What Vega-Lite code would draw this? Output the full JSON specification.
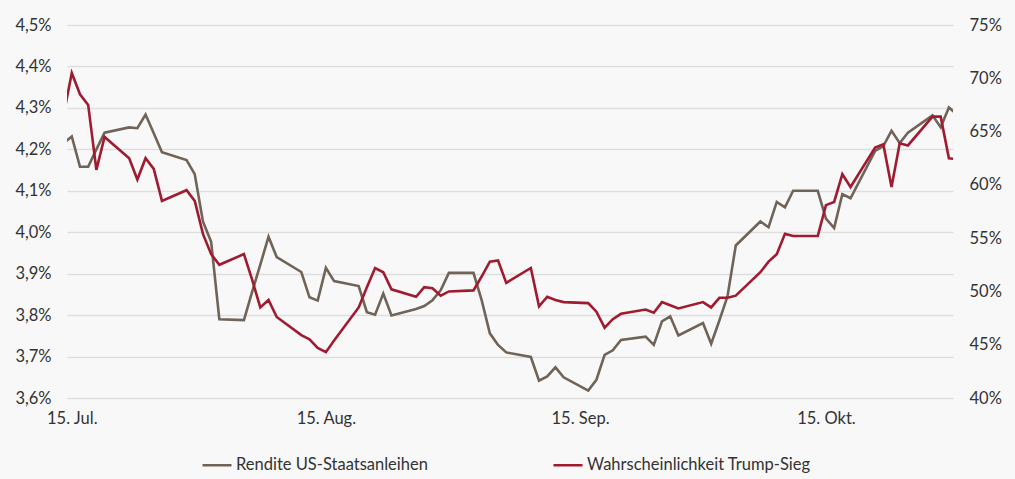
{
  "$schema": "https://vega.github.io/schema/vega-lite/v6.json",
  "width": 886,
  "height": 373,
  "autosize": {"type": "none"},
  "padding": {"left": 67, "top": 25, "right": 62, "bottom": 81},
  "background": "#f8f8f8",
  "data": {
    "values": [
      {"d": "2024-07-12", "s": "Rendite US-Staatsanleihen", "v": 4.182},
      {"d": "2024-07-15", "s": "Rendite US-Staatsanleihen", "v": 4.231},
      {"d": "2024-07-16", "s": "Rendite US-Staatsanleihen", "v": 4.158},
      {"d": "2024-07-17", "s": "Rendite US-Staatsanleihen", "v": 4.158},
      {"d": "2024-07-18", "s": "Rendite US-Staatsanleihen", "v": 4.2},
      {"d": "2024-07-19", "s": "Rendite US-Staatsanleihen", "v": 4.24},
      {"d": "2024-07-22", "s": "Rendite US-Staatsanleihen", "v": 4.253},
      {"d": "2024-07-23", "s": "Rendite US-Staatsanleihen", "v": 4.251},
      {"d": "2024-07-24", "s": "Rendite US-Staatsanleihen", "v": 4.284},
      {"d": "2024-07-25", "s": "Rendite US-Staatsanleihen", "v": 4.239},
      {"d": "2024-07-26", "s": "Rendite US-Staatsanleihen", "v": 4.193},
      {"d": "2024-07-29", "s": "Rendite US-Staatsanleihen", "v": 4.174},
      {"d": "2024-07-30", "s": "Rendite US-Staatsanleihen", "v": 4.14},
      {"d": "2024-07-31", "s": "Rendite US-Staatsanleihen", "v": 4.026},
      {"d": "2024-08-01", "s": "Rendite US-Staatsanleihen", "v": 3.977},
      {"d": "2024-08-02", "s": "Rendite US-Staatsanleihen", "v": 3.79},
      {"d": "2024-08-05", "s": "Rendite US-Staatsanleihen", "v": 3.788},
      {"d": "2024-08-06", "s": "Rendite US-Staatsanleihen", "v": 3.856},
      {"d": "2024-08-07", "s": "Rendite US-Staatsanleihen", "v": 3.922},
      {"d": "2024-08-08", "s": "Rendite US-Staatsanleihen", "v": 3.989},
      {"d": "2024-08-09", "s": "Rendite US-Staatsanleihen", "v": 3.94},
      {"d": "2024-08-12", "s": "Rendite US-Staatsanleihen", "v": 3.904},
      {"d": "2024-08-13", "s": "Rendite US-Staatsanleihen", "v": 3.843},
      {"d": "2024-08-14", "s": "Rendite US-Staatsanleihen", "v": 3.835},
      {"d": "2024-08-15", "s": "Rendite US-Staatsanleihen", "v": 3.914},
      {"d": "2024-08-16", "s": "Rendite US-Staatsanleihen", "v": 3.882},
      {"d": "2024-08-19", "s": "Rendite US-Staatsanleihen", "v": 3.87},
      {"d": "2024-08-20", "s": "Rendite US-Staatsanleihen", "v": 3.807},
      {"d": "2024-08-21", "s": "Rendite US-Staatsanleihen", "v": 3.801},
      {"d": "2024-08-22", "s": "Rendite US-Staatsanleihen", "v": 3.852},
      {"d": "2024-08-23", "s": "Rendite US-Staatsanleihen", "v": 3.799},
      {"d": "2024-08-26", "s": "Rendite US-Staatsanleihen", "v": 3.815},
      {"d": "2024-08-27", "s": "Rendite US-Staatsanleihen", "v": 3.822},
      {"d": "2024-08-28", "s": "Rendite US-Staatsanleihen", "v": 3.836},
      {"d": "2024-08-29", "s": "Rendite US-Staatsanleihen", "v": 3.86},
      {"d": "2024-08-30", "s": "Rendite US-Staatsanleihen", "v": 3.902},
      {"d": "2024-09-02", "s": "Rendite US-Staatsanleihen", "v": 3.902},
      {"d": "2024-09-03", "s": "Rendite US-Staatsanleihen", "v": 3.836},
      {"d": "2024-09-04", "s": "Rendite US-Staatsanleihen", "v": 3.756},
      {"d": "2024-09-05", "s": "Rendite US-Staatsanleihen", "v": 3.728},
      {"d": "2024-09-06", "s": "Rendite US-Staatsanleihen", "v": 3.71},
      {"d": "2024-09-09", "s": "Rendite US-Staatsanleihen", "v": 3.699},
      {"d": "2024-09-10", "s": "Rendite US-Staatsanleihen", "v": 3.642},
      {"d": "2024-09-11", "s": "Rendite US-Staatsanleihen", "v": 3.652},
      {"d": "2024-09-12", "s": "Rendite US-Staatsanleihen", "v": 3.674},
      {"d": "2024-09-13", "s": "Rendite US-Staatsanleihen", "v": 3.65},
      {"d": "2024-09-16", "s": "Rendite US-Staatsanleihen", "v": 3.618},
      {"d": "2024-09-17", "s": "Rendite US-Staatsanleihen", "v": 3.644},
      {"d": "2024-09-18", "s": "Rendite US-Staatsanleihen", "v": 3.704},
      {"d": "2024-09-19", "s": "Rendite US-Staatsanleihen", "v": 3.715},
      {"d": "2024-09-20", "s": "Rendite US-Staatsanleihen", "v": 3.74},
      {"d": "2024-09-23", "s": "Rendite US-Staatsanleihen", "v": 3.748},
      {"d": "2024-09-24", "s": "Rendite US-Staatsanleihen", "v": 3.728},
      {"d": "2024-09-25", "s": "Rendite US-Staatsanleihen", "v": 3.785},
      {"d": "2024-09-26", "s": "Rendite US-Staatsanleihen", "v": 3.797},
      {"d": "2024-09-27", "s": "Rendite US-Staatsanleihen", "v": 3.751},
      {"d": "2024-09-30", "s": "Rendite US-Staatsanleihen", "v": 3.781},
      {"d": "2024-10-01", "s": "Rendite US-Staatsanleihen", "v": 3.731},
      {"d": "2024-10-02", "s": "Rendite US-Staatsanleihen", "v": 3.787},
      {"d": "2024-10-03", "s": "Rendite US-Staatsanleihen", "v": 3.846},
      {"d": "2024-10-04", "s": "Rendite US-Staatsanleihen", "v": 3.968},
      {"d": "2024-10-07", "s": "Rendite US-Staatsanleihen", "v": 4.026},
      {"d": "2024-10-08", "s": "Rendite US-Staatsanleihen", "v": 4.012},
      {"d": "2024-10-09", "s": "Rendite US-Staatsanleihen", "v": 4.073},
      {"d": "2024-10-10", "s": "Rendite US-Staatsanleihen", "v": 4.06},
      {"d": "2024-10-11", "s": "Rendite US-Staatsanleihen", "v": 4.1},
      {"d": "2024-10-14", "s": "Rendite US-Staatsanleihen", "v": 4.1},
      {"d": "2024-10-15", "s": "Rendite US-Staatsanleihen", "v": 4.033},
      {"d": "2024-10-16", "s": "Rendite US-Staatsanleihen", "v": 4.01},
      {"d": "2024-10-17", "s": "Rendite US-Staatsanleihen", "v": 4.092},
      {"d": "2024-10-18", "s": "Rendite US-Staatsanleihen", "v": 4.082},
      {"d": "2024-10-21", "s": "Rendite US-Staatsanleihen", "v": 4.196},
      {"d": "2024-10-22", "s": "Rendite US-Staatsanleihen", "v": 4.208},
      {"d": "2024-10-23", "s": "Rendite US-Staatsanleihen", "v": 4.245},
      {"d": "2024-10-24", "s": "Rendite US-Staatsanleihen", "v": 4.215},
      {"d": "2024-10-25", "s": "Rendite US-Staatsanleihen", "v": 4.24},
      {"d": "2024-10-28", "s": "Rendite US-Staatsanleihen", "v": 4.282},
      {"d": "2024-10-29", "s": "Rendite US-Staatsanleihen", "v": 4.253},
      {"d": "2024-10-30", "s": "Rendite US-Staatsanleihen", "v": 4.301},
      {"d": "2024-10-31", "s": "Rendite US-Staatsanleihen", "v": 4.284},
      {"d": "2024-07-12", "s": "Wahrscheinlichkeit Trump-Sieg", "v": 58.7},
      {"d": "2024-07-15", "s": "Wahrscheinlichkeit Trump-Sieg", "v": 70.5},
      {"d": "2024-07-16", "s": "Wahrscheinlichkeit Trump-Sieg", "v": 68.5},
      {"d": "2024-07-17", "s": "Wahrscheinlichkeit Trump-Sieg", "v": 67.5},
      {"d": "2024-07-18", "s": "Wahrscheinlichkeit Trump-Sieg", "v": 61.4},
      {"d": "2024-07-19", "s": "Wahrscheinlichkeit Trump-Sieg", "v": 64.5},
      {"d": "2024-07-22", "s": "Wahrscheinlichkeit Trump-Sieg", "v": 62.5},
      {"d": "2024-07-23", "s": "Wahrscheinlichkeit Trump-Sieg", "v": 60.5},
      {"d": "2024-07-24", "s": "Wahrscheinlichkeit Trump-Sieg", "v": 62.5},
      {"d": "2024-07-25", "s": "Wahrscheinlichkeit Trump-Sieg", "v": 61.5},
      {"d": "2024-07-26", "s": "Wahrscheinlichkeit Trump-Sieg", "v": 58.5},
      {"d": "2024-07-29", "s": "Wahrscheinlichkeit Trump-Sieg", "v": 59.5},
      {"d": "2024-07-30", "s": "Wahrscheinlichkeit Trump-Sieg", "v": 58.5},
      {"d": "2024-07-31", "s": "Wahrscheinlichkeit Trump-Sieg", "v": 55.4},
      {"d": "2024-08-01", "s": "Wahrscheinlichkeit Trump-Sieg", "v": 53.5},
      {"d": "2024-08-02", "s": "Wahrscheinlichkeit Trump-Sieg", "v": 52.5},
      {"d": "2024-08-05", "s": "Wahrscheinlichkeit Trump-Sieg", "v": 53.5},
      {"d": "2024-08-06", "s": "Wahrscheinlichkeit Trump-Sieg", "v": 51.1},
      {"d": "2024-08-07", "s": "Wahrscheinlichkeit Trump-Sieg", "v": 48.5},
      {"d": "2024-08-08", "s": "Wahrscheinlichkeit Trump-Sieg", "v": 49.2},
      {"d": "2024-08-09", "s": "Wahrscheinlichkeit Trump-Sieg", "v": 47.6},
      {"d": "2024-08-12", "s": "Wahrscheinlichkeit Trump-Sieg", "v": 45.9},
      {"d": "2024-08-13", "s": "Wahrscheinlichkeit Trump-Sieg", "v": 45.5},
      {"d": "2024-08-14", "s": "Wahrscheinlichkeit Trump-Sieg", "v": 44.7},
      {"d": "2024-08-15", "s": "Wahrscheinlichkeit Trump-Sieg", "v": 44.3},
      {"d": "2024-08-16", "s": "Wahrscheinlichkeit Trump-Sieg", "v": 45.4},
      {"d": "2024-08-19", "s": "Wahrscheinlichkeit Trump-Sieg", "v": 48.5},
      {"d": "2024-08-20", "s": "Wahrscheinlichkeit Trump-Sieg", "v": 50.4},
      {"d": "2024-08-21", "s": "Wahrscheinlichkeit Trump-Sieg", "v": 52.2},
      {"d": "2024-08-22", "s": "Wahrscheinlichkeit Trump-Sieg", "v": 51.8},
      {"d": "2024-08-23", "s": "Wahrscheinlichkeit Trump-Sieg", "v": 50.2},
      {"d": "2024-08-26", "s": "Wahrscheinlichkeit Trump-Sieg", "v": 49.5},
      {"d": "2024-08-27", "s": "Wahrscheinlichkeit Trump-Sieg", "v": 50.4},
      {"d": "2024-08-28", "s": "Wahrscheinlichkeit Trump-Sieg", "v": 50.3},
      {"d": "2024-08-29", "s": "Wahrscheinlichkeit Trump-Sieg", "v": 49.6},
      {"d": "2024-08-30", "s": "Wahrscheinlichkeit Trump-Sieg", "v": 50.0},
      {"d": "2024-09-02", "s": "Wahrscheinlichkeit Trump-Sieg", "v": 50.1},
      {"d": "2024-09-03", "s": "Wahrscheinlichkeit Trump-Sieg", "v": 51.4},
      {"d": "2024-09-04", "s": "Wahrscheinlichkeit Trump-Sieg", "v": 52.8},
      {"d": "2024-09-05", "s": "Wahrscheinlichkeit Trump-Sieg", "v": 52.9},
      {"d": "2024-09-06", "s": "Wahrscheinlichkeit Trump-Sieg", "v": 50.8},
      {"d": "2024-09-09", "s": "Wahrscheinlichkeit Trump-Sieg", "v": 52.2},
      {"d": "2024-09-10", "s": "Wahrscheinlichkeit Trump-Sieg", "v": 48.6},
      {"d": "2024-09-11", "s": "Wahrscheinlichkeit Trump-Sieg", "v": 49.5},
      {"d": "2024-09-12", "s": "Wahrscheinlichkeit Trump-Sieg", "v": 49.2},
      {"d": "2024-09-13", "s": "Wahrscheinlichkeit Trump-Sieg", "v": 49.0},
      {"d": "2024-09-16", "s": "Wahrscheinlichkeit Trump-Sieg", "v": 48.9},
      {"d": "2024-09-17", "s": "Wahrscheinlichkeit Trump-Sieg", "v": 48.1},
      {"d": "2024-09-18", "s": "Wahrscheinlichkeit Trump-Sieg", "v": 46.6},
      {"d": "2024-09-19", "s": "Wahrscheinlichkeit Trump-Sieg", "v": 47.4},
      {"d": "2024-09-20", "s": "Wahrscheinlichkeit Trump-Sieg", "v": 47.9},
      {"d": "2024-09-23", "s": "Wahrscheinlichkeit Trump-Sieg", "v": 48.3},
      {"d": "2024-09-24", "s": "Wahrscheinlichkeit Trump-Sieg", "v": 48.0},
      {"d": "2024-09-25", "s": "Wahrscheinlichkeit Trump-Sieg", "v": 49.0},
      {"d": "2024-09-26", "s": "Wahrscheinlichkeit Trump-Sieg", "v": 48.7},
      {"d": "2024-09-27", "s": "Wahrscheinlichkeit Trump-Sieg", "v": 48.4},
      {"d": "2024-09-30", "s": "Wahrscheinlichkeit Trump-Sieg", "v": 49.0},
      {"d": "2024-10-01", "s": "Wahrscheinlichkeit Trump-Sieg", "v": 48.5},
      {"d": "2024-10-02", "s": "Wahrscheinlichkeit Trump-Sieg", "v": 49.4},
      {"d": "2024-10-03", "s": "Wahrscheinlichkeit Trump-Sieg", "v": 49.4},
      {"d": "2024-10-04", "s": "Wahrscheinlichkeit Trump-Sieg", "v": 49.6},
      {"d": "2024-10-07", "s": "Wahrscheinlichkeit Trump-Sieg", "v": 51.8},
      {"d": "2024-10-08", "s": "Wahrscheinlichkeit Trump-Sieg", "v": 52.8},
      {"d": "2024-10-09", "s": "Wahrscheinlichkeit Trump-Sieg", "v": 53.5},
      {"d": "2024-10-10", "s": "Wahrscheinlichkeit Trump-Sieg", "v": 55.4},
      {"d": "2024-10-11", "s": "Wahrscheinlichkeit Trump-Sieg", "v": 55.2},
      {"d": "2024-10-14", "s": "Wahrscheinlichkeit Trump-Sieg", "v": 55.2},
      {"d": "2024-10-15", "s": "Wahrscheinlichkeit Trump-Sieg", "v": 58.1},
      {"d": "2024-10-16", "s": "Wahrscheinlichkeit Trump-Sieg", "v": 58.4},
      {"d": "2024-10-17", "s": "Wahrscheinlichkeit Trump-Sieg", "v": 61.0},
      {"d": "2024-10-18", "s": "Wahrscheinlichkeit Trump-Sieg", "v": 59.8},
      {"d": "2024-10-21", "s": "Wahrscheinlichkeit Trump-Sieg", "v": 63.5},
      {"d": "2024-10-22", "s": "Wahrscheinlichkeit Trump-Sieg", "v": 63.8},
      {"d": "2024-10-23", "s": "Wahrscheinlichkeit Trump-Sieg", "v": 59.8},
      {"d": "2024-10-24", "s": "Wahrscheinlichkeit Trump-Sieg", "v": 63.9},
      {"d": "2024-10-25", "s": "Wahrscheinlichkeit Trump-Sieg", "v": 63.7},
      {"d": "2024-10-28", "s": "Wahrscheinlichkeit Trump-Sieg", "v": 66.4},
      {"d": "2024-10-29", "s": "Wahrscheinlichkeit Trump-Sieg", "v": 66.4},
      {"d": "2024-10-30", "s": "Wahrscheinlichkeit Trump-Sieg", "v": 62.5},
      {"d": "2024-10-31", "s": "Wahrscheinlichkeit Trump-Sieg", "v": 62.4}
    ]
  },
  "encoding": {
    "x": {
      "field": "d",
      "type": "temporal",
      "title": null,
      "scale": {
        "type": "utc",
        "domain": [
          {"year": 2024, "month": 7, "date": 14, "hours": 10, "utc": true},
          {"year": 2024, "month": 10, "date": 30, "hours": 12, "utc": true}
        ]
      },
      "axis": {
        "values": [
          {"year": 2024, "month": 7, "date": 15, "utc": true},
          {"year": 2024, "month": 8, "date": 15, "utc": true},
          {"year": 2024, "month": 9, "date": 15, "utc": true},
          {"year": 2024, "month": 10, "date": 15, "utc": true}
        ],
        "labelExpr": "'15. ' + ['Jan.','Feb.','Mär.','Apr.','Mai','Jun.','Jul.','Aug.','Sep.','Okt.','Nov.','Dez.'][utcmonth(datum.value)]",
        "domain": false,
        "ticks": false,
        "grid": false,
        "labelPadding": 12,
        "labelFlush": false,
        "labelOverlap": false
      }
    },
    "color": {
      "field": "s",
      "type": "nominal",
      "title": null,
      "scale": {
        "domain": ["Rendite US-Staatsanleihen", "Wahrscheinlichkeit Trump-Sieg"],
        "range": ["#706357", "#a01b30"]
      },
      "legend": {
        "orient": "none",
        "direction": "horizontal",
        "legendX": 134,
        "legendY": 424,
        "symbolType": "stroke",
        "symbolSize": 841,
        "symbolStrokeWidth": 2.5,
        "labelOffset": 3,
        "columnPadding": 120,
        "labelLimit": 400,
        "padding": 0
      }
    }
  },
  "layer": [
    {
      "transform": [{"filter": "datum.s == 'Rendite US-Staatsanleihen'"}],
      "mark": {"type": "line", "clip": true, "strokeWidth": 2.6},
      "encoding": {
        "y": {
          "field": "v",
          "type": "quantitative",
          "title": null,
          "scale": {"domain": [3.6, 4.5], "nice": false, "zero": false},
          "axis": {
            "orient": "left",
            "values": [3.6, 3.7, 3.8, 3.9, 4.0, 4.1, 4.2, 4.3, 4.4, 4.5],
            "labelExpr": "replace(format(datum.value, '.1f'), '.', ',') + '%'",
            "grid": true,
            "domain": false,
            "ticks": false,
            "labelPadding": 16
          }
        }
      }
    },
    {
      "transform": [{"filter": "datum.s == 'Wahrscheinlichkeit Trump-Sieg'"}],
      "mark": {"type": "line", "clip": true, "strokeWidth": 2.6},
      "encoding": {
        "y": {
          "field": "v",
          "type": "quantitative",
          "title": null,
          "scale": {"domain": [40, 75], "nice": false, "zero": false},
          "axis": {
            "orient": "right",
            "values": [40, 45, 50, 55, 60, 65, 70, 75],
            "labelExpr": "datum.value + '%'",
            "grid": false,
            "domain": false,
            "ticks": false,
            "labelPadding": 16
          }
        }
      }
    }
  ],
  "resolve": {"scale": {"y": "independent"}},
  "config": {
    "font": "Lato",
    "view": {"stroke": null},
    "axis": {
      "labelFont": "Lato",
      "labelFontSize": 16.5,
      "labelColor": "#333333",
      "gridColor": "#dedede",
      "gridWidth": 1.5
    },
    "legend": {
      "labelFont": "Lato",
      "labelFontSize": 16.5,
      "labelColor": "#333333"
    }
  }
}
